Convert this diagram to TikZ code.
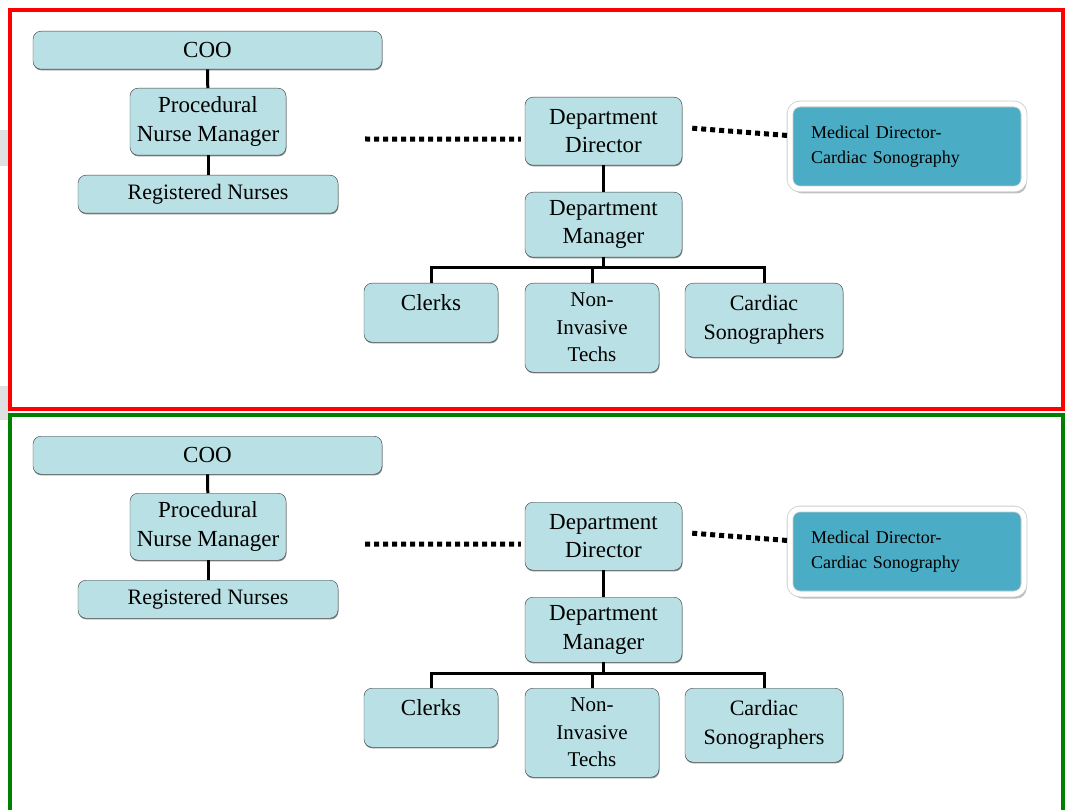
\documentclass[tikz,border=0pt]{standalone}
\usepackage{fontspec}
\setmainfont{Liberation Serif}
\newfontfamily\chartfont{Liberation Serif}
\usetikzlibrary{calc,shadows}
\definecolor{ChartCyan}{HTML}{B9E0E4}
\definecolor{ChartEdge}{HTML}{3C3C3C}
\definecolor{MedBlue}{HTML}{4BACC6}
\definecolor{FrameRed}{HTML}{FF0000}
\definecolor{FrameGreen}{HTML}{008000}

\begin{document}
\begin{tikzpicture}[x=1pt,y=-1pt,every node/.style={font=\chartfont\fontsize{23}{28.5}\selectfont}]
    \tikzset{post/.style={rounded corners=8pt,draw=ChartEdge,thin,fill=ChartCyan,align=center,
      anchor=north,inner sep=2pt,drop shadow={shadow xshift=0.5pt,shadow yshift=-1.2pt,opacity=1,fill=black!45}},
      medbox/.style={rounded corners=10pt,draw=black!20,line width=0.8pt,double=white,double distance=5pt,
      fill=MedBlue,align=left,text width=192pt,inner xsep=21pt,minimum height=85pt,
      font=\chartfont\fontsize{18}{24.5}\selectfont,
      drop shadow={shadow xshift=2.5pt,shadow yshift=-4.5pt,opacity=1,fill=black!25}},
      conn/.style={line width=3pt,black},
      dotline/.style={line width=5pt,dash pattern=on 5pt off 4pt,black}}
    \useasboundingbox (0,0) rectangle (1065,810);
    \fill[black!12] (0,130) rectangle (9,166);
    \fill[black!12] (0,386) rectangle (9,420);
    \foreach \p/\dy in {a/0,b/405}{
    \begin{scope}[shift={(0,\dy)}]
      \node[post,minimum width=349pt,minimum height=38pt] (coo\p) at (207.5,31) {COO};
      \node[post,minimum width=156pt,minimum height=67pt] (pnm\p) at (208,88) {Procedural\\Nurse Manager};
      \node[post,minimum width=260pt,minimum height=38pt,font=\chartfont\fontsize{22}{27}\selectfont] (rn\p) at (208,175) {Registered Nurses};
      \node[post,minimum width=157pt,minimum height=68pt] (dd\p) at (603.5,97) {Department\\Director};
      \node[post,minimum width=157pt,minimum height=65pt] (dm\p) at (603.5,192) {Department\\Manager};
      \node[post,minimum width=134pt,text height=22pt,text depth=27pt,inner ysep=5pt] (clerks\p) at (431,283) {Clerks};
      \node[post,minimum width=134pt,minimum height=89pt,font=\chartfont\fontsize{21}{27.5}\selectfont] (nit\p) at (592,283) {Non-\\Invasive\\Techs};
      \node[post,minimum width=158pt,minimum height=74pt,font=\chartfont\fontsize{22}{29}\selectfont] (cs\p) at (764,283) {Cardiac\\Sonographers};
      \node[medbox] (med\p) at (907,146.5) {Medical Director-\\Cardiac Sonography};
      \coordinate (dl\p) at (365,139);
      % solid reporting lines
      \draw[conn] (coo\p) -- (pnm\p);
      \draw[conn] (pnm\p) -- (rn\p);
      \draw[conn] (dd\p) -- (dm\p);
      \draw[conn] (dm\p.south) -- ++(0,11);
      \draw[conn] (clerks\p.north) -- ++(0,-15) -| (cs\p.north);
      \draw[conn] (nit\p.north) -- ++(0,-15);
      % dotted links
      \draw[dotline] (dl\p) -- ($(dd\p.west)+(-4,8)$);
      \draw[dotline] ($(dd\p.east)+(10,-3)$) -- ($(med\p.west)+(-2,-11)$);
    \end{scope}}
    \draw[FrameRed,line width=4.5pt] (10,10) rectangle (1063,409);
    \draw[FrameGreen,line width=4.5pt] (10,415) rectangle (1063,830);
  \end{tikzpicture}
\end{document}
